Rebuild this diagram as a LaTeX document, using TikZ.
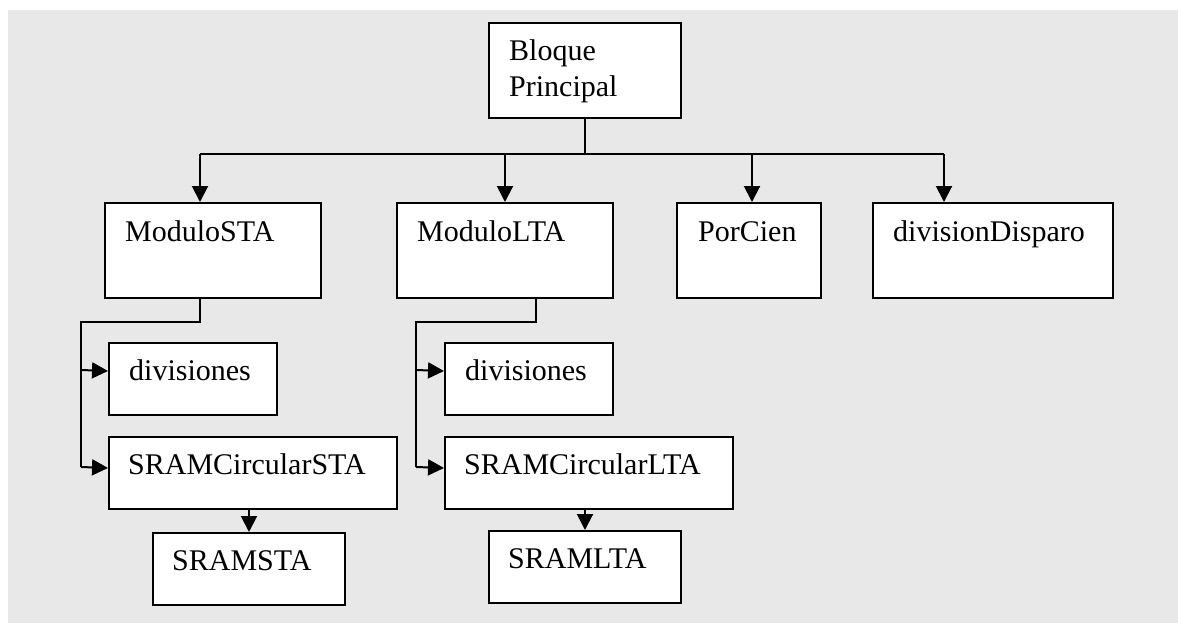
\documentclass[tikz,border=0pt]{standalone}
\usepackage{fontspec}
\setmainfont{Liberation Serif}
\usetikzlibrary{arrows.meta}
\definecolor{paper}{HTML}{E8E8E8}
\begin{document}
\begin{tikzpicture}[x=1pt,y=-1pt,
  box/.style={draw=black,fill=white,line width=2pt,inner sep=0pt},
  lbl/.style={inner sep=0pt,anchor=base west,font=\fontsize{30}{36}\selectfont},
  wire/.style={line width=2pt},
  arr/.style={wire,-{Triangle[length=16pt,width=16pt]}}]
\useasboundingbox (0,0) rectangle (1178,623);
\fill[paper] (8,10) rectangle (1178,623);

% blocks: corners given top-left / bottom-right
\newcommand\blk[5]{\node[box,minimum width={#4-#2},minimum height={#5-#3},anchor=north west] (#1) at (#2,#3) {};}
\blk{bp}{488}{22}{680}{117}
\blk{msta}{104}{202}{320}{297}
\blk{mlta}{396}{202}{612}{297}
\blk{pc}{676}{202}{820}{297}
\blk{dd}{872}{202}{1112}{297}
\blk{divs}{108}{342}{276}{414}
\blk{divl}{444}{342}{612}{414}
\blk{scs}{108}{436}{396}{508}
\blk{scl}{444}{436}{732}{508}
\blk{ss}{152}{532}{344}{604}
\blk{sl}{488}{530}{680}{602}

% captions
\node[lbl] (tbp1) at (509,61) {Bloque};
\node[lbl] (tbp2) at (509,97) {Principal};
\node[lbl] (tmsta) at (125,241) {ModuloSTA};
\node[lbl] (tmlta) at (417,241) {ModuloLTA};
\node[lbl] (tpc) at (698,241) {PorCien};
\node[lbl] (tdd) at (893,241) {divisionDisparo};
\node[lbl] (tdivs) at (129,380) {divisiones};
\node[lbl] (tdivl) at (465,380) {divisiones};
\node[lbl] (tscs) at (128,474) {SRAMCircularSTA};
\node[lbl] (tscl) at (464,474) {SRAMCircularLTA};
\node[lbl] (tss) at (172,570) {SRAMSTA};
\node[lbl] (tsl) at (508,568) {SRAMLTA};

% top-level bus
\coordinate (busL) at (200,154);
\coordinate (busR) at (944,154);
\coordinate (pcin) at (752,154);
\draw[wire] (bp.south) -- (bp.south |- busL);
\draw[wire] (busL) -- (busR);
\draw[arr] (busL) -- (busL |- msta.north);
\draw[arr] (mlta.north |- busL) -- (mlta.north);
\draw[arr] (pcin) -- (pcin |- pc.north);
\draw[arr] (busR) -- (busR |- dd.north);

% ModuloSTA branch
\coordinate (sa) at (200,322);
\coordinate (sb) at (81,322);
\draw[wire] (sa |- msta.south) -- (sa) -- (sb) -- (81,467);
\draw[arr] (81,370) -- ([yshift=8pt]divs.west);
\draw[arr] (81,467) -- ([yshift=5pt]scs.west);
\draw[arr] (ss.north |- scs.south) -- (ss.north);

% ModuloLTA branch
\coordinate (la) at (536,322);
\coordinate (lb) at (416,322);
\draw[wire] (la |- mlta.south) -- (la) -- (lb) -- (416,467);
\draw[arr] (416,370) -- ([yshift=8pt]divl.west);
\draw[arr] (416,467) -- ([yshift=5pt]scl.west);
\draw[arr] (sl.north |- scl.south) -- (sl.north);
\end{tikzpicture}
\end{document}
